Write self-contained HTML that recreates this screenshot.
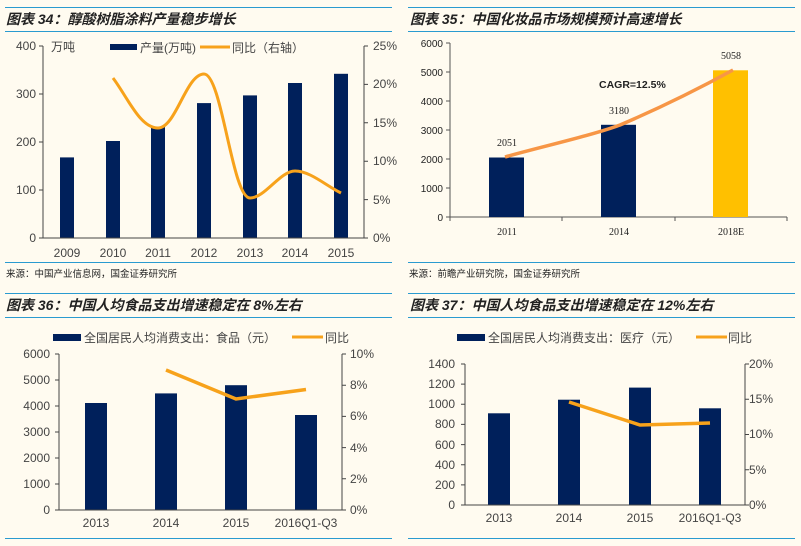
<!DOCTYPE html>
<html><head><meta charset="utf-8"><style>
body{margin:0;background:#fffbf0;}
svg{display:block;font-family:"Liberation Sans","Noto Sans CJK SC",sans-serif;}
.t{font-family:"Liberation Sans","Noto Sans CJK SC",sans-serif;font-style:italic;font-weight:bold;font-size:14px;fill:#222;}
.ax{font-size:12px;fill:#444;}
.sm{font-size:10px;fill:#222;}
.src{font-size:9.5px;fill:#222;}
</style></head><body>
<svg width="801" height="546" viewBox="0 0 801 546" xmlns="http://www.w3.org/2000/svg">
<rect width="801" height="546" fill="#fffbf0"/>
<g stroke="#2a9bd0" stroke-width="1">
<line x1="5" y1="7.5" x2="392" y2="7.5"/><line x1="5" y1="31.5" x2="392" y2="31.5"/>
<line x1="5" y1="262.5" x2="392" y2="262.5"/>
<line x1="408" y1="7.5" x2="795" y2="7.5"/><line x1="408" y1="31.5" x2="795" y2="31.5"/>
<line x1="408" y1="262.5" x2="795" y2="262.5"/>
<line x1="5" y1="293.5" x2="392" y2="293.5"/><line x1="5" y1="317.5" x2="392" y2="317.5"/>
<line x1="5" y1="538.5" x2="392" y2="538.5"/>
<line x1="408" y1="293.5" x2="795" y2="293.5"/><line x1="408" y1="317.5" x2="795" y2="317.5"/>
<line x1="408" y1="538.5" x2="795" y2="538.5"/>
</g>
<text class="t" x="6" y="24">图表 34：醇酸树脂涂料产量稳步增长</text>
<text class="t" x="410" y="24">图表 35：中国化妆品市场规模预计高速增长</text>
<text class="t" x="6" y="310">图表 36：中国人均食品支出增速稳定在 8%左右</text>
<text class="t" x="410" y="310">图表 37：中国人均食品支出增速稳定在 12%左右</text>
<text class="src" x="6" y="277">来源：中国产业信息网，国金证券研究所</text>
<text class="src" x="409" y="277">来源：前瞻产业研究院，国金证券研究所</text>

<!-- Panel 1 -->
<g fill="#00205b">
<rect x="60" y="157.4" width="14" height="80.6"/><rect x="106" y="141" width="14" height="97"/>
<rect x="151" y="126.6" width="14" height="111.4"/><rect x="197" y="103.1" width="14" height="134.9"/>
<rect x="243" y="95.4" width="14" height="142.6"/><rect x="288" y="83" width="14" height="155"/>
<rect x="334" y="73.8" width="14" height="164.2"/></g>
<path d="M113,78 C128,98 140,128 158,128 C176,128 186,74 204,74 C222,74 232,198 250,198 C265,198 280,171 295,171 C310,171 325,185 341,193" fill="none" stroke="#f7a21b" stroke-width="3"/>
<g stroke="#444" fill="none"><path d="M43,46V238H364V46"/>
<path d="M39,46h4M39,94h4M39,142h4M39,190h4M39,238h4M364,46h4M364,84.4h4M364,122.8h4M364,161.2h4M364,199.6h4M364,238h4"/></g>
<g class="ax" text-anchor="end"><text x="36" y="50">400</text><text x="36" y="98">300</text><text x="36" y="146">200</text><text x="36" y="194">100</text><text x="36" y="242">0</text></g>
<g class="ax"><text x="373" y="50">25%</text><text x="373" y="88">20%</text><text x="373" y="127">15%</text><text x="373" y="165">10%</text><text x="373" y="204">5%</text><text x="373" y="242">0%</text>
<text x="51" y="51">万吨</text>
<rect x="110" y="44" width="27" height="6" fill="#00205b"/><text x="140" y="52">产量(万吨)</text>
<line x1="200" y1="47" x2="230" y2="47" stroke="#f7a21b" stroke-width="3"/><text x="232" y="52">同比（右轴）</text></g>
<g class="ax" text-anchor="middle"><text x="67" y="257">2009</text><text x="113" y="257">2010</text><text x="158" y="257">2011</text><text x="204" y="257">2012</text><text x="250" y="257">2013</text><text x="295" y="257">2014</text><text x="341" y="257">2015</text></g>

<!-- Panel 2 -->
<g stroke="#555" fill="none"><path d="M450,43V217H787"/>
<path d="M446,43h4M446,72h4M446,101h4M446,130h4M446,159h4M446,188h4M446,217h4M450,217v4M562,217v4M675,217v4M787,217v4"/></g>
<rect x="489" y="157.5" width="35" height="59.5" fill="#00205b"/>
<rect x="601" y="124.8" width="35" height="92.2" fill="#00205b"/>
<rect x="713" y="70.3" width="35" height="146.7" fill="#ffc000"/>
<path d="M505,157 C540,147 590,136 620,125 C660,108 700,88 733,70" fill="none" stroke="#f79646" stroke-width="3.5"/>
<g class="sm" text-anchor="end"><text x="443" y="47">6000</text><text x="443" y="76">5000</text><text x="443" y="105">4000</text><text x="443" y="134">3000</text><text x="443" y="163">2000</text><text x="443" y="192">1000</text><text x="443" y="221">0</text></g>
<g class="sm" text-anchor="middle" font-family="Liberation Serif,serif"><text x="507" y="146">2051</text><text x="619" y="114">3180</text><text x="731" y="59">5058</text>
<text x="507" y="235">2011</text><text x="619" y="235">2014</text><text x="731" y="235">2018E</text></g>
<text x="599" y="88" font-size="10.5" font-weight="bold" fill="#222">CAGR=12.5%</text>

<!-- Panel 3 -->
<g fill="#00205b">
<rect x="85" y="403" width="22" height="107"/><rect x="155" y="393.4" width="22" height="116.6"/>
<rect x="225" y="385.2" width="22" height="124.8"/><rect x="295" y="415" width="22" height="95"/></g>
<polyline points="166,370 236,399 306,389.5" fill="none" stroke="#f7a21b" stroke-width="3.5"/>
<g stroke="#444" fill="none"><path d="M59,354V510H342V354"/>
<path d="M55,354h4M55,380h4M55,406h4M55,432h4M55,458h4M55,484h4M55,510h4M342,354h4M342,385.2h4M342,416.4h4M342,447.6h4M342,478.8h4M342,510h4"/></g>
<g class="ax" text-anchor="end"><text x="50" y="358">6000</text><text x="50" y="384">5000</text><text x="50" y="410">4000</text><text x="50" y="436">3000</text><text x="50" y="462">2000</text><text x="50" y="488">1000</text><text x="50" y="514">0</text></g>
<g class="ax"><text x="350" y="358">10%</text><text x="350" y="389">8%</text><text x="350" y="420">6%</text><text x="350" y="452">4%</text><text x="350" y="483">2%</text><text x="350" y="514">0%</text>
<rect x="53" y="334" width="28" height="7" fill="#00205b"/><text x="84" y="342">全国居民人均消费支出：食品（元）</text>
<line x1="292" y1="337" x2="323" y2="337" stroke="#f7a21b" stroke-width="3"/><text x="325" y="342">同比</text></g>
<g class="ax" text-anchor="middle"><text x="96" y="527">2013</text><text x="166" y="527">2014</text><text x="236" y="527">2015</text><text x="306" y="527">2016Q1-Q3</text></g>

<!-- Panel 4 -->
<g fill="#00205b">
<rect x="488" y="413.3" width="22" height="91.7"/><rect x="558" y="399.7" width="22" height="105.3"/>
<rect x="629" y="387.6" width="22" height="117.4"/><rect x="699" y="408.3" width="22" height="96.7"/></g>
<polyline points="569,402 640,425 710,423" fill="none" stroke="#f7a21b" stroke-width="3.5"/>
<g stroke="#444" fill="none"><path d="M465,364V505H745V364"/>
<path d="M461,364h4M461,384.1h4M461,404.3h4M461,424.4h4M461,444.6h4M461,464.7h4M461,484.9h4M461,505h4M745,364h4M745,399.3h4M745,434.5h4M745,469.8h4M745,505h4"/></g>
<g class="ax" text-anchor="end"><text x="455" y="368">1400</text><text x="455" y="388">1200</text><text x="455" y="408">1000</text><text x="455" y="428">800</text><text x="455" y="449">600</text><text x="455" y="469">400</text><text x="455" y="489">200</text><text x="455" y="509">0</text></g>
<g class="ax"><text x="749" y="368">20%</text><text x="749" y="403">15%</text><text x="749" y="438">10%</text><text x="749" y="474">5%</text><text x="749" y="509">0%</text>
<rect x="457" y="334" width="28" height="7" fill="#00205b"/><text x="488" y="342">全国居民人均消费支出：医疗（元）</text>
<line x1="696" y1="337" x2="727" y2="337" stroke="#f7a21b" stroke-width="3"/><text x="728" y="342">同比</text></g>
<g class="ax" text-anchor="middle"><text x="499" y="522">2013</text><text x="569" y="522">2014</text><text x="640" y="522">2015</text><text x="710" y="522">2016Q1-Q3</text></g>
</svg>
</body></html>
